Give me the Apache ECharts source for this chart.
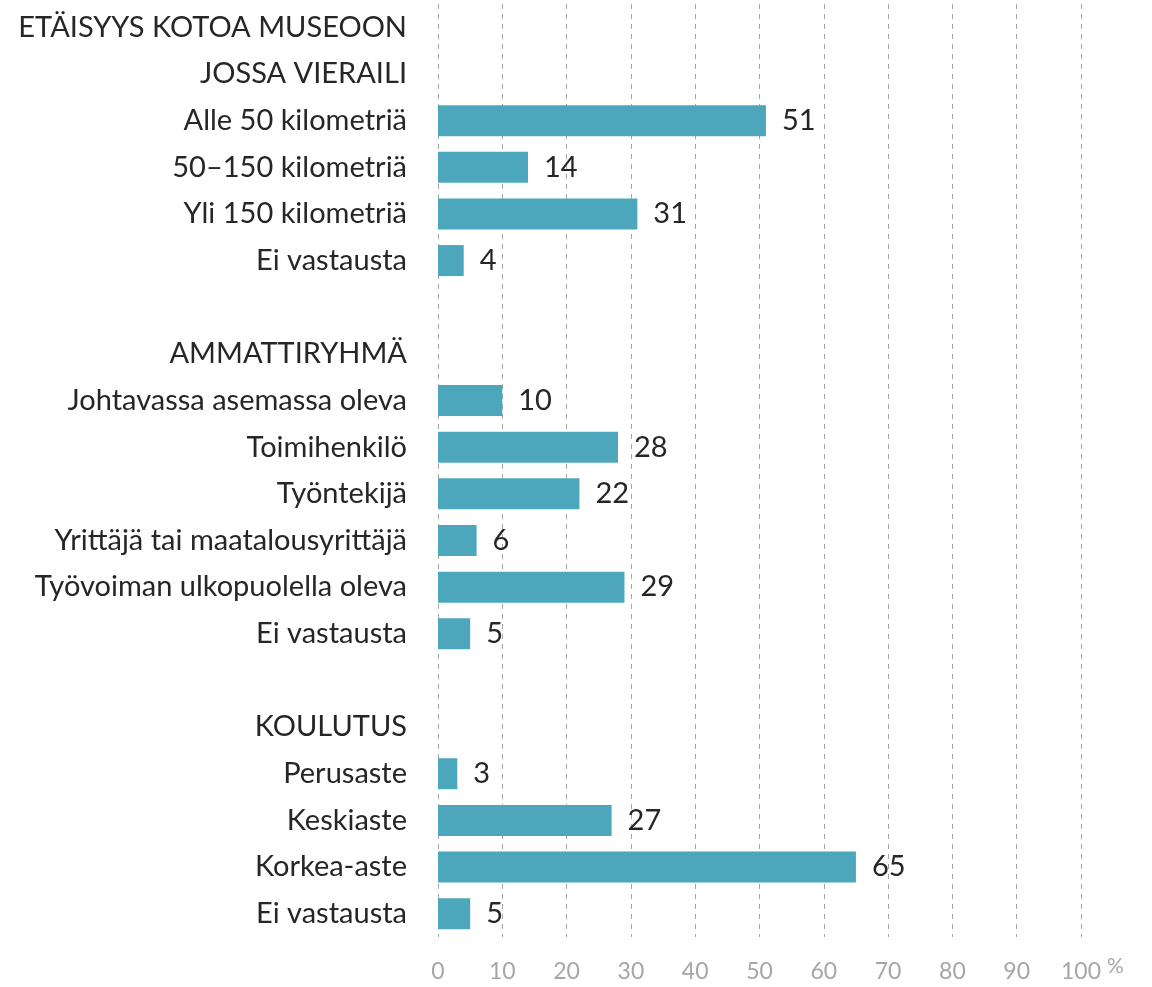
<!DOCTYPE html>
<html>
<head>
<meta charset="utf-8">
<script src="https://cdn.jsdelivr.net/npm/echarts@6/dist/echarts.min.js"></script>
<style>
  html, body { margin: 0; padding: 0; background: #fff; }
  #main { width: 1152px; height: 987px; }
</style>
</head>
<body>
<div id="main"></div>
<script>
// rivit ylhäältä alas, otsikkorivit ja välit ilman arvoa
const categories = [
  'ETÄISYYS KOTOA MUSEOON', 'JOSSA VIERAILI',
  'Alle 50 kilometriä', '50–150 kilometriä', 'Yli 150 kilometriä', 'Ei vastausta',
  '',
  'AMMATTIRYHMÄ',
  'Johtavassa asemassa oleva', 'Toimihenkilö', 'Työntekijä',
  'Yrittäjä tai maatalousyrittäjä', 'Työvoiman ulkopuolella oleva', 'Ei vastausta',
  '',
  'KOULUTUS',
  'Perusaste', 'Keskiaste', 'Korkea-aste', 'Ei vastausta'
];
const values = [
  null, null,
  51, 14, 31, 4,
  null,
  null,
  10, 28, 22, 6, 29, 5,
  null,
  null,
  3, 27, 65, 5
];
const xTicks = [0, 10, 20, 30, 40, 50, 60, 70, 80, 90, 100];

const chart = echarts.init(document.getElementById('main'));
const option = {
  animation: false,
  grid: { left: 438, right: 71, top: 4, bottom: 50 },
  xAxis: {
    type: 'value',
    min: xTicks[0],
    max: xTicks[xTicks.length - 1],
    interval: 10,
    name: '%',
    nameLocation: 'end',
    nameGap: 13,
    nameTextStyle: {
      color: '#a6a6a6',
      fontFamily: 'Lato',
      fontSize: 21,
      verticalAlign: 'top',
      padding: [19, 0, 0, 0]
    },
    axisLine: { show: false },
    axisTick: { show: false },
    splitLine: { lineStyle: { color: '#a6a6a6', type: [5, 5], width: 1 } },
    axisLabel: {
      margin: 23,
      color: '#a6a6a6',
      fontFamily: 'Lato',
      fontSize: 23
    }
  },
  yAxis: {
    type: 'category',
    inverse: true,
    data: categories,
    axisLine: { show: false },
    axisTick: { show: false },
    axisLabel: {
      interval: 0,
      margin: 31,
      color: '#262626',
      fontFamily: 'Lato',
      fontSize: 29
    }
  },
  series: [{
    type: 'bar',
    data: values,
    barWidth: 31,
    itemStyle: { color: '#4da7bc' },
    label: {
      show: true,
      position: 'right',
      distance: 16,
      color: '#262626',
      fontFamily: 'Lato',
      fontSize: 29
    }
  }]
};
chart.setOption(option);
</script>
</body>
</html>
